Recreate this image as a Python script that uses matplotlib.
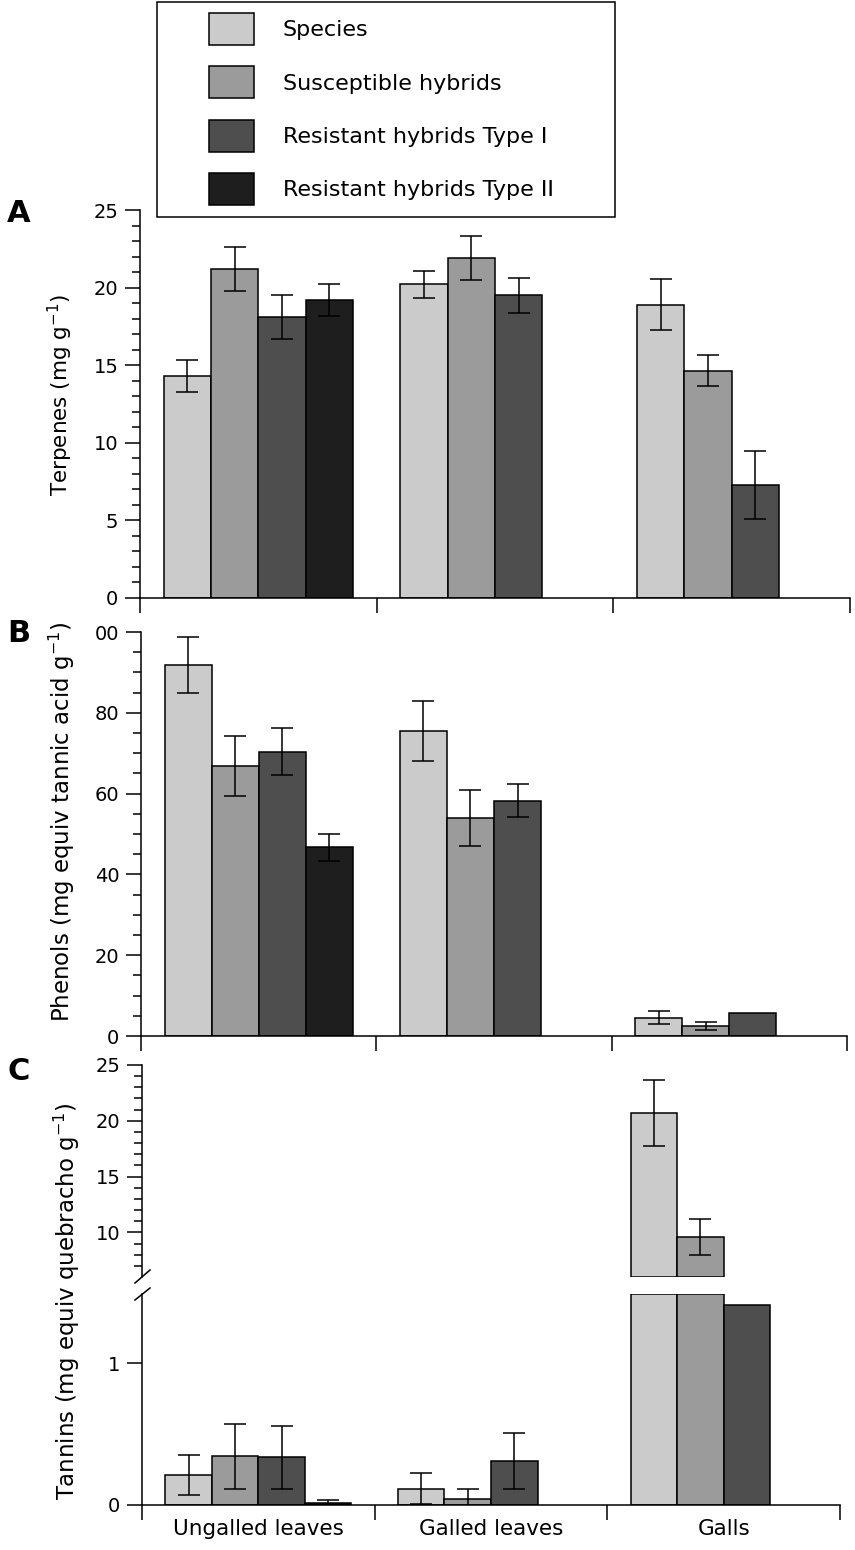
import numpy as np
import matplotlib
matplotlib.use("Agg")
import matplotlib.pyplot as plt
from matplotlib.patches import Rectangle
from matplotlib.lines import Line2D
from matplotlib.ticker import MultipleLocator, FixedLocator

# data
categories = ["Ungalled leaves", "Galled leaves", "Galls"]
groups = ["Species", "Susceptible hybrids", "Resistant hybrids Type I", "Resistant hybrids Type II"]
colors = ["#cbcbcb", "#9b9b9b", "#4e4e4e", "#1e1e1e"]

nan = np.nan
terp_mean = [[14.3, 20.2, 18.9], [21.2, 21.9, 14.65], [18.1, 19.5, 7.3], [19.2, nan, nan]]
terp_err = [[1.05, 0.85, 1.66], [1.4, 1.43, 1.0], [1.4, 1.13, 2.2], [1.05, nan, nan]]

phen_mean = [[91.8, 75.5, 4.5], [66.9, 54.0, 2.5], [70.4, 58.2, 5.8], [46.7, nan, nan]]
phen_err = [[7.0, 7.5, 1.6], [7.4, 6.9, 0.9], [5.9, 4.1, 0.0], [3.4, nan, nan]]

tan_mean = [[0.21, 0.115, 20.7], [0.345, 0.04, 9.6], [0.336, 0.31, 1.41], [0.012, nan, nan]]
tan_err = [[0.14, 0.11, 2.97], [0.23, 0.075, 1.6], [0.22, 0.2, 0.0], [0.025, nan, nan]]

W, H = 855, 1550
fig = plt.figure(figsize=(W / 100, H / 100), dpi=100)


def fr(x0, y_top, x1, y_bot):
    # pixel box -> figure fraction rect
    return [x0 / W, 1 - y_bot / H, (x1 - x0) / W, (y_bot - y_top) / H]


width = 0.2
cat_x = np.arange(len(categories)) + 0.5
lw = 1.1


def style(ax, bottom=True):
    for s in ["top", "right"]:
        ax.spines[s].set_visible(False)
    ax.spines["left"].set_linewidth(lw)
    ax.spines["bottom"].set_linewidth(lw)
    ax.set_xlim(0, 3)
    ax.tick_params(axis="y", which="major", direction="out", length=10.5, width=lw,
                   labelsize=14, pad=5)
    ax.tick_params(axis="y", which="minor", direction="out", length=5.5, width=lw)
    if bottom:
        ax.set_xticks([0, 1, 2, 3])
        ax.set_xticklabels([])
        ax.tick_params(axis="x", which="major", direction="out", length=10.5, width=lw)
    else:
        ax.spines["bottom"].set_visible(False)
        ax.set_xticks([])


def draw_bars(ax, means, errs, lo=None, hi=None):
    for i in range(len(groups)):
        xs = cat_x + (i - 1.5) * width
        for x, m, e in zip(xs, means[i], errs[i]):
            if np.isnan(m):
                continue
            if lo is not None:
                if m <= lo:
                    continue
                ax.bar(x, m - lo, width, bottom=lo, color=colors[i], edgecolor="black", linewidth=lw)
            else:
                h = m if hi is None else min(m, hi)
                ax.bar(x, h, width, color=colors[i], edgecolor="black", linewidth=lw,
                       label=groups[i] if x == xs[0] else None)
            if e > 0 and (hi is None or m < hi):
                ax.errorbar(x, m, yerr=e, fmt="none", ecolor="black", elinewidth=lw,
                            capsize=8, capthick=lw)


# Panel A
axA = fig.add_axes(fr(140, 210, 850, 598))
draw_bars(axA, terp_mean, terp_err)
style(axA)
axA.set_ylim(0, 25)
axA.yaxis.set_major_locator(MultipleLocator(5))
axA.yaxis.set_minor_locator(MultipleLocator(1))

# Panel B
axB = fig.add_axes(fr(141, 632, 847, 1036))
draw_bars(axB, phen_mean, phen_err)
style(axB)
axB.set_ylim(0, 100)
axB.set_yticks([0, 20, 40, 60, 80, 100])
axB.set_yticklabels(["0", "20", "40", "60", "80", "00"])
axB.yaxis.set_minor_locator(MultipleLocator(5))

# Panel C (broken axis)
axCu = fig.add_axes(fr(142, 1065, 840, 1277))
draw_bars(axCu, tan_mean, tan_err, lo=6)
style(axCu, bottom=False)
axCu.set_ylim(6, 25)
axCu.set_yticks([10, 15, 20, 25])
axCu.yaxis.set_minor_locator(FixedLocator(np.arange(7, 26, 1)))

axCl = fig.add_axes(fr(142, 1294, 840, 1505))
draw_bars(axCl, tan_mean, tan_err, hi=1.49)
style(axCl)
axCl.set_ylim(0, 1.49)
axCl.set_yticks([0, 1])
axCl.set_xticks(cat_x, minor=True)
axCl.set_xticklabels(categories, minor=True, fontsize=15.5)
axCl.tick_params(axis="x", which="minor", length=0, pad=10)

# break marks on the left spine
for (xa, ya, xb, yb) in [(135, 1283, 150, 1270), (135, 1300, 150, 1288)]:
    fig.add_artist(Line2D([xa / W, xb / W], [1 - ya / H, 1 - yb / H], color="black",
                          linewidth=lw, transform=fig.transFigure))

# y labels and panel letters
fig.text(60 / W, 1 - 395 / H, "Terpenes (mg g$^{-1}$)", rotation=90, ha="center", va="center", fontsize=15.5)
fig.text(62 / W, 1 - 822 / H, "Phenols (mg equiv tannic acid g$^{-1}$)", rotation=90, ha="center", va="center",
         fontsize=16.5)
fig.text(67 / W, 1 - 1301 / H, "Tannins (mg equiv quebracho g$^{-1}$)", rotation=90, ha="center", va="center",
         fontsize=16.5)
for letter, yc in [("A", 213), ("B", 633), ("C", 1071)]:
    fig.text(7 / W, 1 - yc / H, letter, fontsize=22, fontweight="bold", ha="left", va="center")

# legend with its own box
fig.add_artist(Rectangle((157 / W, 1 - 217 / H), (615 - 157) / W, 215 / H, transform=fig.transFigure,
                         facecolor="white", edgecolor="black", linewidth=lw, zorder=4))
handles, labels = axA.get_legend_handles_labels()
fs = 16
px = fs * 100 / 72
hh = 34 + 0.3 * px
leg = fig.legend(handles, labels, loc="upper left", bbox_to_anchor=(209 / W, 1 - 13 / H),
                 frameon=False, fontsize=fs, borderpad=0, borderaxespad=0,
                 handlelength=45 / px, handleheight=hh / px, labelspacing=0.97,
                 handletextpad=29 / px)
leg.set_zorder(5)

fig.savefig("out.png", dpi=100)
